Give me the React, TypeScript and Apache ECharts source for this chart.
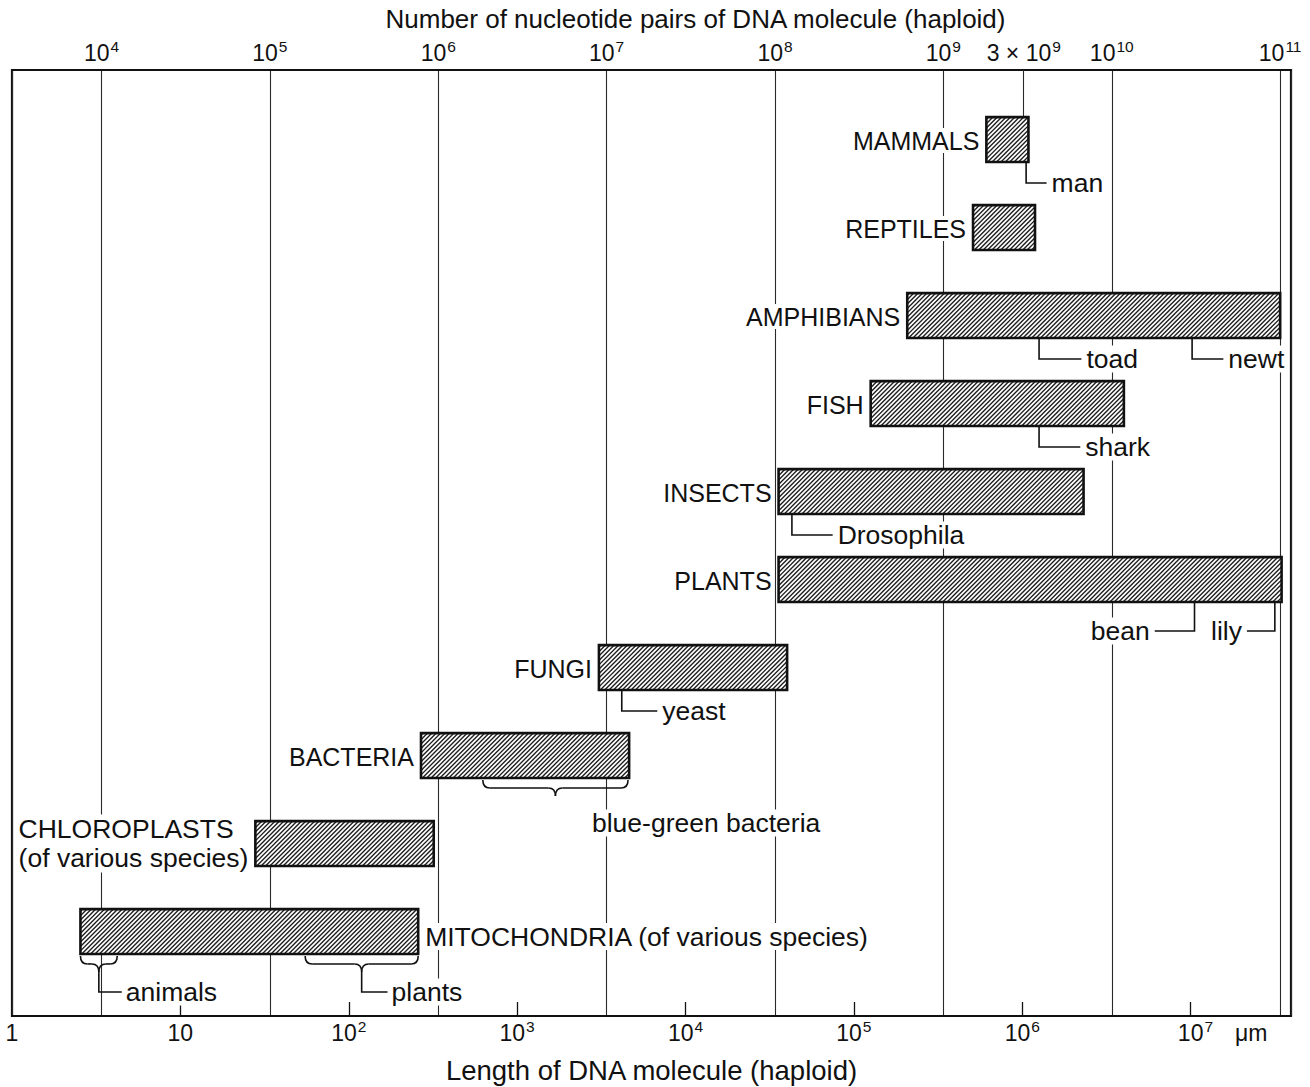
import React, { useEffect, useRef } from "react";
import * as echarts from "echarts";

// ---------- data ----------
const BP_PER_UM = 1 / 3.4e-4; // 0.34 nm per nucleotide pair
const BP_MIN = BP_PER_UM; // = 1 µm
const BP_MAX = 1.16e11;

const groups = [
  "MAMMALS",
  "REPTILES",
  "AMPHIBIANS",
  "FISH",
  "INSECTS",
  "PLANTS",
  "FUNGI",
  "BACTERIA",
  "CHLOROPLASTS\n(of various species)",
  "MITOCHONDRIA (of various species)",
];
// haploid genome size range, nucleotide pairs
const rangeLow = [1.8e9, 1.5e9, 6.1e8, 3.7e8, 1.05e8, 1.05e8, 9.0e6, 7.9e5, 8.2e4, 7.5e3];
const rangeHigh = [3.2e9, 3.5e9, 1.0e11, 1.18e10, 6.8e9, 1.02e11, 1.18e8, 1.36e7, 9.4e5, 7.6e5];

const bpTicks = [1e4, 1e5, 1e6, 1e7, 1e8, 1e9, 1e10, 1e11];
const bpExtraTicks = [3e9];
const umTicks = [1, 10, 1e2, 1e3, 1e4, 1e5, 1e6, 1e7];

// single-organism callouts
const calloutTexts = ["man", "toad", "newt", "shark", "Drosophila", "bean", "lily", "yeast"];
const calloutRows = [0, 2, 2, 3, 4, 5, 5, 6];
const calloutAt = [3.1e9, 3.7e9, 3.0e10, 3.7e9, 1.26e8, 3.1e10, 9.3e10, 1.23e7];
const calloutLabelAt = [4.1e9, 6.6e9, 4.6e10, 6.5e9, 2.2e8, 1.8e10, 6.35e10, 2.0e7];

// brace callouts
const braceTexts = ["blue-green bacteria", "animals", "plants"];
const braceRows = [7, 9, 9];
const braceFrom = [1.84e6, 7.5e3, 1.62e5];
const braceTo = [1.34e7, 1.24e4, 7.6e5];
const braceLabelAt = [3.9e7, 1.32e4, 5.0e5];
const braceLeader = ["below", "stem", "stem"];

// ---------- styles ----------
const INK = "#111";
const FONT = "'Liberation Sans', Arial, Helvetica, sans-serif";
const ROW_HALF = 0.255;
const CAPS_SIZE = 25;
const NOTE_SIZE = 26.5;

const supRich = {
  s: { fontSize: 15.5, verticalAlign: "top", fontFamily: FONT, color: INK, padding: [0, 0, 0, 1] },
  p: { width: 64 },
  g: { width: 22 },
  u: { fontSize: 23, fontFamily: FONT, color: INK },
};

function pow10Label(v: number): string {
  const e = Math.floor(Math.log10(v) + 1e-9);
  const m = Math.round(v / Math.pow(10, e));
  const pre = m !== 1 ? m + " × " : "";
  if (e === 0 && m === 1) return "1";
  if (e === 1 && m === 1) return "10";
  return pre + "10{s|" + e + "}";
}

function textEl(text: string, x: number, y: number, align: string, size: number, extra: any = {}) {
  return {
    type: "text",
    z2: 10,
    style: {
      text,
      x,
      y,
      align,
      verticalAlign: "middle",
      fontSize: size,
      fontFamily: FONT,
      fill: INK,
      backgroundColor: "#fff",
      padding: [0, 2, 0, 2],
      ...extra,
    },
  };
}

function barRender(params: any, api: any) {
  const lo = api.value(0);
  const hi = api.value(1);
  const row = api.value(2);
  const a = api.coord([lo, row - ROW_HALF]);
  const b = api.coord([hi, row + ROW_HALF]);
  const x0 = Math.min(a[0], b[0]);
  const x1 = Math.max(a[0], b[0]);
  const y0 = Math.min(a[1], b[1]);
  const y1 = Math.max(a[1], b[1]);
  const children: any[] = [];
  children.push({
    type: "rect",
    shape: { x: x0, y: y0, width: x1 - x0, height: y1 - y0 },
    style: { fill: "#fff" },
  });
  const step = 4.4;
  for (let c = x0 + y0 + step / 2; c < x1 + y1; c += step) {
    const xa = Math.max(x0, c - y1);
    const xb = Math.min(x1, c - y0);
    if (xb - xa > 0.3) {
      children.push({
        type: "line",
        shape: { x1: xa, y1: c - xa, x2: xb, y2: c - xb },
        style: { stroke: "#1c1c1c", lineWidth: 1.35 },
      });
    }
  }
  children.push({
    type: "rect",
    shape: { x: x0, y: y0, width: x1 - x0, height: y1 - y0 },
    style: { fill: "none", stroke: INK, lineWidth: 2.6 },
  });
  const i = params.dataIndex;
  const yc = (y0 + y1) / 2;
  const name = groups[i];
  if (i === groups.length - 1) {
    children.push(textEl(name, x1 + 5, yc + 5, "left", NOTE_SIZE));
  } else if (name.indexOf("\n") >= 0) {
    const lines = name.split("\n");
    children.push(
      textEl(
        lines.map((l) => "{a|" + l + "}").join("\n"),
        x0 - 5,
        yc,
        "right",
        NOTE_SIZE,
        {
          rich: {
            a: { align: "left", fontSize: NOTE_SIZE, fontFamily: FONT, fill: INK, lineHeight: 29 },
          },
        }
      )
    );
  } else {
    children.push(textEl(name, x0 - 5, yc + 1, "right", CAPS_SIZE));
  }
  return { type: "group", children };
}

function calloutRender(params: any, api: any) {
  const at = api.value(0);
  const lab = api.value(1);
  const row = api.value(2);
  const i = params.dataIndex;
  const p = api.coord([at, row + ROW_HALF]);
  const toRight = lab > at;
  const depth = toRight ? 21 : 29;
  const yl = p[1] + depth;
  const lx = api.coord([lab, row])[0];
  return {
    type: "group",
    children: [
      {
        type: "polyline",
        shape: { points: [[p[0], p[1]], [p[0], yl], [lx, yl]] },
        style: { stroke: INK, lineWidth: 1.6, fill: "none" },
      },
      textEl(calloutTexts[i], lx + (toRight ? 3 : -3), yl, toRight ? "left" : "right", NOTE_SIZE),
    ],
  };
}

function braceRender(params: any, api: any) {
  const from = api.value(0);
  const to = api.value(1);
  const lab = api.value(2);
  const row = api.value(3);
  const i = params.dataIndex;
  const pa = api.coord([from, row + ROW_HALF]);
  const pb = api.coord([to, row + ROW_HALF]);
  const xL = pa[0];
  const xR = pb[0];
  const xm = (xL + xR) / 2;
  const y0 = pa[1] + 2;
  const y1 = y0 + 8;
  const y2 = y1 + 8;
  const r = Math.min(7, (xR - xL) / 4);
  const st = { stroke: INK, lineWidth: 1.6, fill: "none" };
  const children: any[] = [
    { type: "bezierCurve", shape: { x1: xL, y1: y0, x2: xL + r, y2: y1, cpx1: xL, cpy1: y1 }, style: st },
    { type: "line", shape: { x1: xL + r, y1: y1, x2: xm - r, y2: y1 }, style: st },
    { type: "bezierCurve", shape: { x1: xm - r, y1: y1, x2: xm, y2: y2, cpx1: xm, cpy1: y1 }, style: st },
    { type: "bezierCurve", shape: { x1: xm, y1: y2, x2: xm + r, y2: y1, cpx1: xm, cpy1: y1 }, style: st },
    { type: "line", shape: { x1: xm + r, y1: y1, x2: xR - r, y2: y1 }, style: st },
    { type: "bezierCurve", shape: { x1: xR - r, y1: y1, x2: xR, y2: y0, cpx1: xR, cpy1: y1 }, style: st },
  ];
  const lx = api.coord([lab, row])[0];
  if (braceLeader[i] === "below") {
    children.push(textEl(braceTexts[i], lx, pa[1] + 45, "center", NOTE_SIZE));
  } else {
    const ys = pa[1] + 38;
    children.push({
      type: "polyline",
      shape: { points: [[xm, y2], [xm, ys], [lx, ys]] },
      style: st,
    });
    children.push(textEl(braceTexts[i], lx + 2, ys, "left", NOTE_SIZE));
  }
  return { type: "group", children };
}

export default function App() {
  const ref = useRef<HTMLDivElement>(null);
  useEffect(() => {
    if (!ref.current) return;
    const chart = echarts.init(ref.current, null, { renderer: "svg" });
    const tickLabel = {
      fontSize: 23,
      lineHeight: 30,
      fontFamily: FONT,
      color: INK,
      margin: 2,
      rich: supRich,
    };
    const option: any = {
      animation: false,
      backgroundColor: "#fff",
      grid: {
        left: 12,
        right: 19,
        top: 70,
        bottom: 71,
        show: true,
        borderColor: INK,
        borderWidth: 2.2,
        containLabel: false,
        outerBoundsMode: "none",
      },
      xAxis: [
        {
          type: "log",
          logBase: 10,
          min: BP_MIN / BP_PER_UM,
          max: BP_MAX / BP_PER_UM,
          position: "bottom",
          axisLine: { show: true, onZero: false, lineStyle: { color: INK, width: 2.2 } },
          axisTick: {
            show: true,
            inside: true,
            length: 14,
            customValues: umTicks.slice(1),
            lineStyle: { color: INK, width: 1.3 },
          },
          axisLabel: {
            ...tickLabel,
            customValues: umTicks,
            formatter: (v: number) =>
              v === umTicks[umTicks.length - 1]
                ? "{p|}" + pow10Label(v) + "{g|}{u|μm}"
                : pow10Label(v),
          },
          splitLine: { show: false },
          minorTick: { show: false },
          name: "Length of DNA molecule (haploid)",
          nameLocation: "middle",
          nameGap: 40,
          nameTextStyle: { fontSize: 27.5, fontFamily: FONT, color: INK },
        },
        {
          type: "log",
          logBase: 10,
          min: BP_MIN,
          max: BP_MAX,
          position: "top",
          axisLine: { show: true, onZero: false, lineStyle: { color: INK, width: 2.2 } },
          axisTick: { show: false },
          axisLabel: { ...tickLabel, customValues: bpTicks, formatter: pow10Label },
          splitLine: { show: true, lineStyle: { color: "#2a2a2a", width: 1.1 } },
          name: "Number of nucleotide pairs of DNA molecule (haploid)",
          nameLocation: "middle",
          nameGap: 38,
          nameTextStyle: { fontSize: 26, fontFamily: FONT, color: INK, padding: [0, 0, 0, 88] },
        },
        {
          type: "log",
          logBase: 10,
          min: BP_MIN,
          max: BP_MAX,
          position: "top",
          axisLine: { show: false, onZero: false },
          axisTick: {
            show: true,
            inside: true,
            length: 47,
            customValues: bpExtraTicks,
            lineStyle: { color: "#2a2a2a", width: 1.1 },
          },
          axisLabel: { ...tickLabel, customValues: bpExtraTicks, formatter: pow10Label },
          splitLine: { show: false },
        },
      ],
      yAxis: { type: "value", inverse: true, min: -0.79, max: 9.96, show: false },
      series: [
        {
          type: "custom",
          name: "range",
          xAxisIndex: 1,
          yAxisIndex: 0,
          renderItem: barRender,
          encode: { x: [0, 1], y: 2 },
          data: groups.map((g, i) => [rangeLow[i], rangeHigh[i], i]),
          z: 3,
        },
        {
          type: "custom",
          name: "callouts",
          xAxisIndex: 1,
          yAxisIndex: 0,
          renderItem: calloutRender,
          encode: { x: [0, 1], y: 2 },
          data: calloutTexts.map((t, i) => [calloutAt[i], calloutLabelAt[i], calloutRows[i]]),
          z: 4,
        },
        {
          type: "custom",
          name: "braces",
          xAxisIndex: 1,
          yAxisIndex: 0,
          renderItem: braceRender,
          encode: { x: [0, 1, 2], y: 3 },
          data: braceTexts.map((t, i) => [braceFrom[i], braceTo[i], braceLabelAt[i], braceRows[i]]),
          z: 4,
        },
      ],
    };
    chart.setOption(option);
    return () => chart.dispose();
  }, []);
  return (
    <div
      ref={ref}
      style={{ position: "absolute", left: 0, top: 0, width: 1310, height: 1087, background: "#fff" }}
    />
  );
}
